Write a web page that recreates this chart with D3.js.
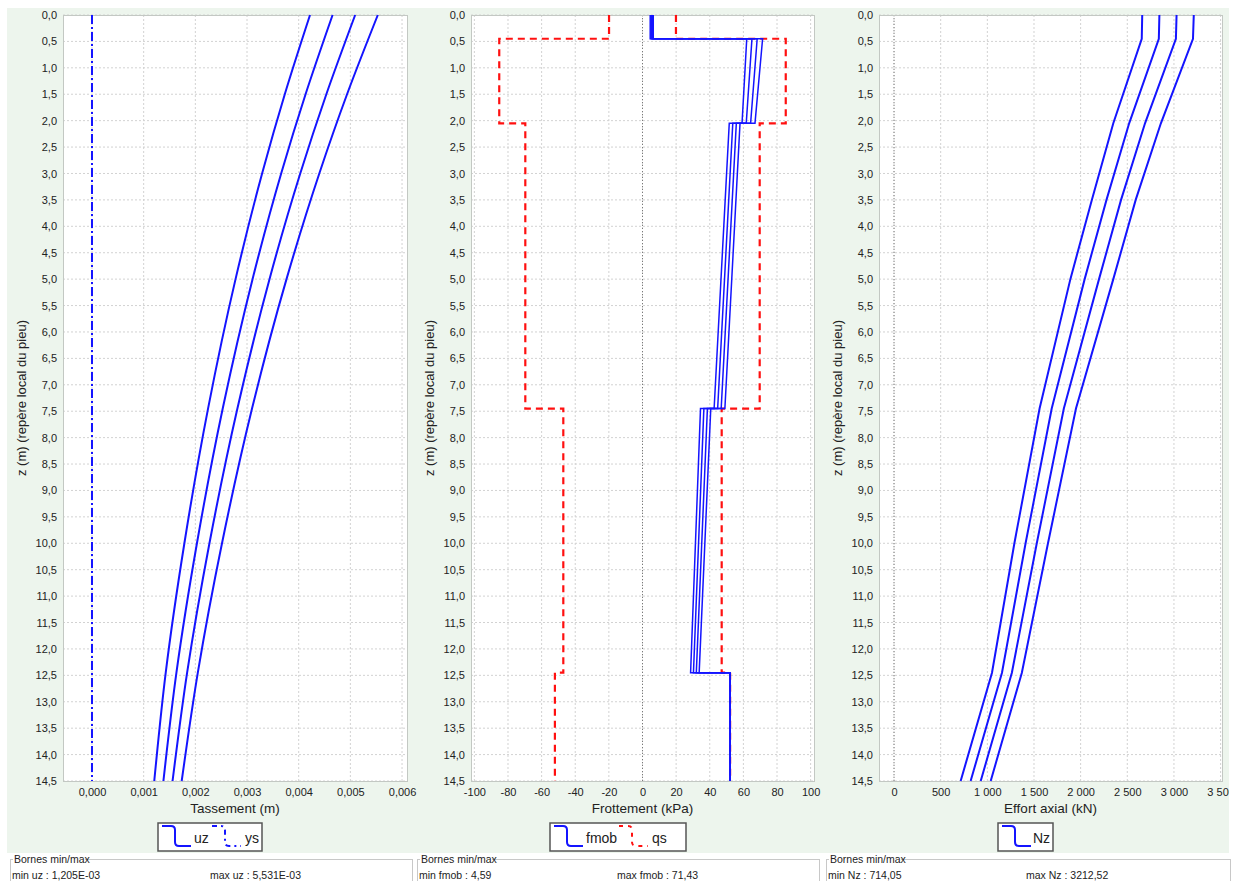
<!DOCTYPE html>
<html>
<head>
<meta charset="utf-8">
<script src="https://cdn.jsdelivr.net/npm/d3@7/dist/d3.min.js"></script>
<style>
body { margin: 0; background: #fff; font-family: Arial, "Liberation Sans", sans-serif; }
</style>
</head>
<body>
<div id="container"></div>
<script>
// ---- data ----
// settlement uz (m), 4 load cases, and soil displacement ys
var uzDepth = [0, 1.5, 3, 5, 7.45, 10, 12.45, 14.5];
var uzA = [0.004219, 0.003731, 0.003292, 0.002778, 0.002246, 0.001788, 0.001427, 0.001205];
var uzB = [0.004656, 0.004133, 0.003661, 0.003107, 0.002530, 0.002031, 0.001634, 0.001382];
var uzC = [0.005093, 0.004535, 0.004030, 0.003435, 0.002814, 0.002273, 0.001841, 0.001559];
var uzD = [0.005531, 0.004936, 0.004399, 0.003764, 0.003097, 0.002516, 0.002048, 0.001736];
var ysDepth = [0, 14.5];
var ys = [0, 0];

// skin friction fmob (kPa), 4 load cases, and limit qs
var fmobDepth = [0, 0.45, 0.45, 2.05, 2.05, 7.45, 7.45, 12.45, 12.45, 14.5];
var fmobA = [4.59, 4.59, 62.0, 59.2, 51.6, 42.6, 34.5, 28.6, 52.1, 52.1];
var fmobB = [5.2, 5.2, 65.1, 61.7, 53.7, 44.7, 36.5, 30.3, 52.1, 52.1];
var fmobC = [5.8, 5.8, 68.2, 64.3, 55.8, 46.8, 38.6, 32.0, 52.1, 52.1];
var fmobD = [6.4, 6.4, 71.43, 66.9, 58.0, 49.0, 40.6, 33.7, 52.1, 52.1];
var qsDepth = [0, 0.45, 0.45, 2.05, 2.05, 7.45, 7.45, 12.45, 12.45, 14.5];
var qs = [19.9, 19.9, 85.2, 85.2, 69.7, 69.7, 47.1, 47.1, 52.1, 52.1];

// axial force Nz (kN), 4 load cases
var nzDepth = [0, 0.45, 2.05, 3.5, 5, 7.45, 10, 12.45, 14.5];
var nzA = [2660, 2655, 2350, 2120, 1890, 1560, 1290, 1050, 714.05];
var nzB = [2844, 2838, 2520, 2277, 2043, 1690, 1410, 1157, 821];
var nzC = [3028, 3021, 2690, 2433, 2197, 1820, 1530, 1263, 929];
var nzD = [3212.52, 3204, 2860, 2590, 2350, 1950, 1650, 1370, 1036];

// ticks and labels
var depthTicks = d3.range(0, 14.5001, 0.5);
var uzTicks = [0, 0.001, 0.002, 0.003, 0.004, 0.005, 0.006];
var fTicks = [-100, -80, -60, -40, -20, 0, 20, 40, 60, 80, 100];
var nzTicks = [0, 500, 1000, 1500, 2000, 2500, 3000, 3500];
var yTitle = "z (m) (repère local du pieu)";
var xTitles = ["Tassement (m)", "Frottement (kPa)", "Effort axial (kN)"];
var bornesMin = ["min uz : 1,205E-03", "min fmob : 4,59", "min Nz : 714,05"];
var bornesMax = ["max uz : 5,531E-03", "max fmob : 71,43", "max Nz : 3212,52"];

// ---- layout ----
var width = 1234, height = 881;
var plotTop = 15, plotBottom = 781;
var blue = "#1414ff", red = "#ff1010";

var svg = d3.select("#container")
    .append("svg")
    .attr("width", width)
    .attr("height", height)
    .style("display", "block");

// light green panel background
svg.append("rect")
    .attr("x", 7).attr("y", 8)
    .attr("width", 1222).attr("height", 845)
    .attr("fill", "#edf5ed");

var yScale = d3.scaleLinear().domain([0, 14.5]).range([plotTop, plotBottom]);

var fr = d3.formatLocale({ decimal: ",", thousands: "\u00a0", grouping: [3], minus: "-" });

var panels = [
    { left: 63, right: 407, domain: [-0.000561, 0.006096], ticks: uzTicks, fmt: fr.format(".3f"), zero: false },
    { left: 471, right: 814, domain: [-102, 102], ticks: fTicks, fmt: fr.format("d"), zero: true },
    { left: 879, right: 1222, domain: [-161, 3515], ticks: nzTicks, fmt: fr.format(",d"), zero: true }
];

panels.forEach(function(p, i) {
    p.x = d3.scaleLinear().domain(p.domain).range([p.left, p.right]);
    var g = svg.append("g");

    // plot background
    g.append("rect")
        .attr("x", p.left).attr("y", plotTop)
        .attr("width", p.right - p.left).attr("height", plotBottom - plotTop)
        .attr("fill", "#fff");

    // grid
    g.selectAll(".vg").data(p.ticks).enter().append("line")
        .attr("x1", function(d) { return p.x(d); })
        .attr("x2", function(d) { return p.x(d); })
        .attr("y1", plotTop).attr("y2", plotBottom)
        .attr("stroke", "#d2d2d2").attr("stroke-dasharray", "2,2");
    g.selectAll(".hg").data(depthTicks).enter().append("line")
        .attr("x1", p.left).attr("x2", p.right)
        .attr("y1", function(d) { return yScale(d); })
        .attr("y2", function(d) { return yScale(d); })
        .attr("stroke", "#d2d2d2").attr("stroke-dasharray", "2,2");

    // zero lines
    if (p.zero) {
        g.append("line")
            .attr("x1", p.x(0)).attr("x2", p.x(0))
            .attr("y1", plotTop).attr("y2", plotBottom)
            .attr("stroke", "#7a7a7a").attr("stroke-dasharray", "1,2");
    }
    g.append("line")
        .attr("x1", p.left).attr("x2", p.right)
        .attr("y1", plotTop + 0.5).attr("y2", plotTop + 0.5)
        .attr("stroke", "#8a8a8a").attr("stroke-dasharray", "1,2");

    // frame
    g.append("rect")
        .attr("x", p.left + 0.5).attr("y", plotTop + 0.5)
        .attr("width", p.right - p.left).attr("height", plotBottom - plotTop)
        .attr("fill", "none").attr("stroke", "#c3c8c3");

    // x axis labels (last panel clipped at the green edge, like the reference)
    var clipId = "clip" + i;
    svg.append("clipPath").attr("id", clipId).append("rect")
        .attr("x", p.left - 40).attr("y", 0)
        .attr("width", p.right - p.left + (i === 2 ? 47 : 60)).attr("height", 30);
    var xa = g.append("g")
        .attr("transform", "translate(0," + plotBottom + ")")
        .attr("clip-path", "url(#" + clipId + ")")
        .call(d3.axisBottom(p.x).tickValues(p.ticks).tickFormat(p.fmt).tickSize(0).tickPadding(7));
    xa.select(".domain").remove();
    xa.selectAll("text").attr("font-size", 11).attr("fill", "#222")
        .attr("font-family", "Arial, 'Liberation Sans', sans-serif");

    // y axis labels
    var ya = g.append("g")
        .attr("transform", "translate(" + p.left + ",0)")
        .call(d3.axisLeft(yScale).tickValues(depthTicks).tickFormat(fr.format(".1f")).tickSize(0).tickPadding(6));
    ya.select(".domain").remove();
    ya.selectAll("text").attr("font-size", 11).attr("fill", "#222")
        .attr("font-family", "Arial, 'Liberation Sans', sans-serif");

    // titles
    g.append("text")
        .attr("x", (p.left + p.right) / 2).attr("y", 813)
        .attr("text-anchor", "middle")
        .attr("font-size", 13.5).attr("fill", "#222")
        .text(xTitles[i]);
    g.append("text")
        .attr("transform", "translate(" + (p.left - 37) + "," + ((plotTop + plotBottom) / 2) + ") rotate(-90)")
        .attr("text-anchor", "middle")
        .attr("font-size", 13).attr("fill", "#222")
        .text(yTitle);

    // bornes min/max box
    var bx = [10, 417, 826][i], bw = [402, 402, 404][i];
    svg.append("rect")
        .attr("x", bx + 0.5).attr("y", 859.5)
        .attr("width", bw).attr("height", 40)
        .attr("fill", "#fff").attr("stroke", "#c8c8c8");
    svg.append("rect")
        .attr("x", bx + 3).attr("y", 853)
        .attr("width", 72).attr("height", 12)
        .attr("fill", "#fff");
    svg.append("text")
        .attr("x", bx + 4).attr("y", 863)
        .attr("font-size", 10.5).attr("fill", "#222")
        .text("Bornes min/max");
    svg.append("text")
        .attr("x", bx + 2).attr("y", 879)
        .attr("font-size", 10.5).attr("fill", "#222")
        .text(bornesMin[i]);
    svg.append("text")
        .attr("x", bx + 200).attr("y", 879)
        .attr("font-size", 10.5).attr("fill", "#222")
        .text(bornesMax[i]);
});

// line helper: vertical profile, value on x, depth on y
function profile(p, curve) {
    return d3.line()
        .x(function(d) { return p.x(d[0]); })
        .y(function(d) { return yScale(d[1]); })
        .curve(curve || d3.curveLinear);
}
function pairs(values, depth, sign) {
    return values.map(function(v, k) { return [v * (sign || 1), depth[k]]; });
}

// panel 1: uz and ys
var p1 = panels[0];
svg.append("path")
    .attr("d", profile(p1)(pairs(ys, ysDepth)))
    .attr("fill", "none").attr("stroke", blue).attr("stroke-width", 2)
    .attr("stroke-dasharray", "9,3,2,3");
[uzA, uzB, uzC, uzD].forEach(function(s) {
    svg.append("path")
        .attr("d", profile(p1, d3.curveMonotoneY)(pairs(s, uzDepth)))
        .attr("fill", "none").attr("stroke", blue).attr("stroke-width", 2);
});

// panel 2: qs envelope (both signs) then fmob
var p2 = panels[1];
[1, -1].forEach(function(sg) {
    svg.append("path")
        .attr("d", profile(p2)(pairs(qs, qsDepth, sg)))
        .attr("fill", "none").attr("stroke", red).attr("stroke-width", 2.2)
        .attr("stroke-dasharray", "7,5");
});
[fmobA, fmobB, fmobC, fmobD].forEach(function(s) {
    svg.append("path")
        .attr("d", profile(p2)(pairs(s, fmobDepth)))
        .attr("fill", "none").attr("stroke", blue).attr("stroke-width", 1.5);
});

// panel 3: Nz
var p3 = panels[2];
[nzA, nzB, nzC, nzD].forEach(function(s) {
    svg.append("path")
        .attr("d", profile(p3)(pairs(s, nzDepth)))
        .attr("fill", "none").attr("stroke", blue).attr("stroke-width", 2);
});

// ---- legends ----
function glyph(x0, color, dash) {
    var yt = 826, yb = 846;
    svg.append("path")
        .attr("d", "M" + x0 + "," + yt + " H" + (x0 + 9) +
            " Q" + (x0 + 13) + "," + yt + " " + (x0 + 13) + "," + (yt + 4) +
            " V" + (yb - 4) +
            " Q" + (x0 + 13) + "," + yb + " " + (x0 + 17) + "," + yb +
            " H" + (x0 + 29))
        .attr("fill", "none").attr("stroke", color).attr("stroke-width", 2)
        .attr("stroke-dasharray", dash || null);
}
function legendBox(x, w) {
    svg.append("rect")
        .attr("x", x).attr("y", 823)
        .attr("width", w).attr("height", 28)
        .attr("fill", "#fff").attr("stroke", "#555").attr("stroke-width", 1.5);
}
function legendText(x, t) {
    svg.append("text")
        .attr("x", x).attr("y", 843)
        .attr("font-size", 14).attr("fill", "#222")
        .text(t);
}
legendBox(158, 104);
glyph(162, blue);
legendText(194, "uz");
glyph(212, blue, "5,4,2,4");
legendText(245, "ys");

legendBox(550, 136);
glyph(554, blue);
legendText(586, "fmob");
glyph(619, red, "4,5");
legendText(652, "qs");

legendBox(998, 55);
glyph(1002, blue);
legendText(1033, "Nz");
</script>
</body>
</html>
